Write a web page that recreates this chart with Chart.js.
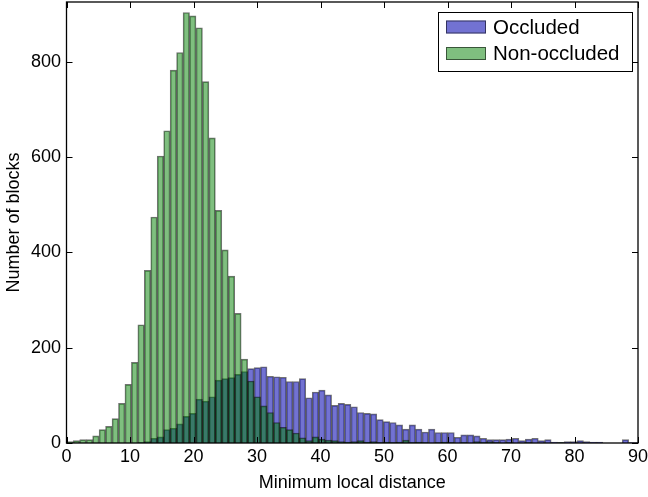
<!DOCTYPE html>
<html>
<head>
<meta charset="utf-8">
<script src="https://cdn.jsdelivr.net/npm/chart.js@4.4.1/dist/chart.umd.min.js"></script>
<style>
  html, body { margin: 0; padding: 0; background: #fff; }
  #wrap { width: 648px; height: 497px; }
</style>
</head>
<body>
<div id="wrap"><canvas id="chart" width="648" height="497"></canvas></div>
<script>
// histogram bins (minimum local distance)
const binStart = 0.05;
const binWidth = 1.017;

// counts per bin
const occluded = [
  0, 0, 0, 0, 0, 0, 0, 0, 0, 0,
  0, 1, 3, 10, 13, 28, 31, 40, 56, 62,
  92, 88, 97, 132, 135, 137, 144, 150, 156, 158,
  160, 140, 139, 138, 129, 129, 135, 95, 107, 111,
  101, 79, 83, 81, 76, 64, 62, 61, 49, 45,
  43, 38, 29, 38, 29, 23, 29, 22, 22, 22,
  12, 17, 17, 15, 10, 7, 7, 7, 8, 10,
  5, 8, 10, 5, 7, 2, 1, 3, 3, 5,
  3, 2, 2, 0, 0, 0, 7, 1, 1
];
const nonOccluded = [
  3, 5, 7, 7, 15, 28, 35, 51, 83, 123,
  169, 248, 362, 474, 602, 655, 782, 819, 903, 896,
  871, 758, 640, 488, 405, 350, 272, 176, 130, 97,
  78, 64, 43, 33, 28, 21, 11, 5, 13, 8,
  6, 5, 3, 2, 3, 5, 2, 3, 1, 2,
  1, 2, 6, 1, 2, 1, 0, 1, 2, 1,
  0, 1, 0, 3, 1, 3, 1, 0, 1, 0,
  0, 1, 0, 0, 0, 0, 1, 0, 0, 0,
  0, 0, 0, 0, 0, 0, 0, 0, 0
];

const xTicks = [0, 10, 20, 30, 40, 50, 60, 70, 80, 90];
const yTicks = [0, 200, 400, 600, 800];
const seriesNames = ['Occluded', 'Non-occluded'];

const FONT = '"Liberation Sans", Arial, Helvetica, sans-serif';
const blueFill = 'rgba(20, 20, 180, 0.6)';
const greenFill = 'rgba(0, 128, 0, 0.5)';
const edge = 'rgba(0, 0, 0, 0.55)';

const toPoints = counts => counts.map((c, i) => ({ x: binStart + binWidth * (i + 0.5), y: c }));

// matplotlib-style frame with inward ticks on all four sides
const frameTicks = {
  id: 'frameTicks',
  afterDatasetsDraw(chart) {
    const { ctx, chartArea: a, scales } = chart;
    ctx.save();
    ctx.strokeStyle = '#000';
    ctx.lineWidth = 1;
    ctx.beginPath();
    xTicks.forEach(v => {
      const x = Math.round(scales.x.getPixelForValue(v)) + 0.5;
      ctx.moveTo(x, a.bottom); ctx.lineTo(x, a.bottom - 6);
      ctx.moveTo(x, a.top); ctx.lineTo(x, a.top + 6);
    });
    yTicks.forEach(v => {
      const y = Math.round(scales.y.getPixelForValue(v)) + 0.5;
      ctx.moveTo(a.left, y); ctx.lineTo(a.left + 6, y);
      ctx.moveTo(a.right, y); ctx.lineTo(a.right - 6, y);
    });
    ctx.stroke();
    ctx.lineWidth = 1.3;
    ctx.strokeRect(a.left, a.top, a.right - a.left, a.bottom - a.top);
    ctx.restore();
  }
};

// legend box in the upper right corner
const boxLegend = {
  id: 'boxLegend',
  afterDraw(chart) {
    const { ctx, chartArea: a } = chart;
    const fills = [blueFill, greenFill];
    const right = a.right - 6, top = a.top + 10;
    const w = 194, h = 59;
    ctx.save();
    ctx.fillStyle = '#fff';
    ctx.fillRect(right - w, top, w, h);
    ctx.strokeStyle = '#000';
    ctx.lineWidth = 1;
    ctx.strokeRect(right - w + 0.5, top + 0.5, w, h);
    ctx.font = '20.5px ' + FONT;
    ctx.textBaseline = 'middle';
    seriesNames.forEach((name, i) => {
      const cy = top + 15 + i * 26.5;
      ctx.fillStyle = fills[i];
      ctx.fillRect(right - w + 8, cy - 6.5, 40, 13);
      ctx.strokeStyle = edge;
      ctx.strokeRect(right - w + 8.5, cy - 6, 39, 12);
      ctx.fillStyle = '#000';
      ctx.fillText(name, right - w + 55, cy + 1);
    });
    ctx.restore();
  }
};

new Chart(document.getElementById('chart'), {
  type: 'bar',
  data: {
    datasets: [
      {
        label: seriesNames[0],
        data: toPoints(occluded),
        backgroundColor: blueFill,
        borderColor: edge,
        borderWidth: 1,
        order: 1
      },
      {
        label: seriesNames[1],
        data: toPoints(nonOccluded),
        backgroundColor: greenFill,
        borderColor: edge,
        borderWidth: 1,
        order: 0
      }
    ]
  },
  options: {
    responsive: false,
    animation: false,
    grouped: false,
    categoryPercentage: 1,
    barPercentage: 1,
    layout: { padding: { top: 2, right: 10, left: 0, bottom: 0 } },
    plugins: {
      legend: { display: false },
      tooltip: { enabled: false }
    },
    scales: {
      x: {
        type: 'linear',
        offset: false,
        min: 0,
        max: 90,
        afterBuildTicks: s => { s.ticks = xTicks.map(v => ({ value: v })); },
        afterFit: s => { s.height = 54; s.paddingLeft = 0; s.paddingRight = 0; },
        grid: { display: false, drawTicks: false },
        border: { display: false },
        ticks: { color: '#000', padding: 3, maxRotation: 0, font: { family: FONT, size: 18 } },
        title: {
          display: true,
          text: 'Minimum local distance',
          color: '#000',
          font: { family: FONT, size: 18 },
          padding: { top: 0, bottom: 3 }
        }
      },
      y: {
        min: 0,
        max: 925,
        afterBuildTicks: s => { s.ticks = yTicks.map(v => ({ value: v })); },
        afterFit: s => { s.width = 66.5; s.paddingTop = 0; s.paddingBottom = 0; },
        grid: { display: false, drawTicks: false },
        border: { display: false },
        ticks: { color: '#000', padding: 5.5, font: { family: FONT, size: 18 } },
        title: {
          display: true,
          text: 'Number of blocks',
          color: '#000',
          font: { family: FONT, size: 18 },
          padding: { top: 3, bottom: 0 }
        }
      }
    }
  },
  plugins: [frameTicks, boxLegend]
});
</script>
</body>
</html>
